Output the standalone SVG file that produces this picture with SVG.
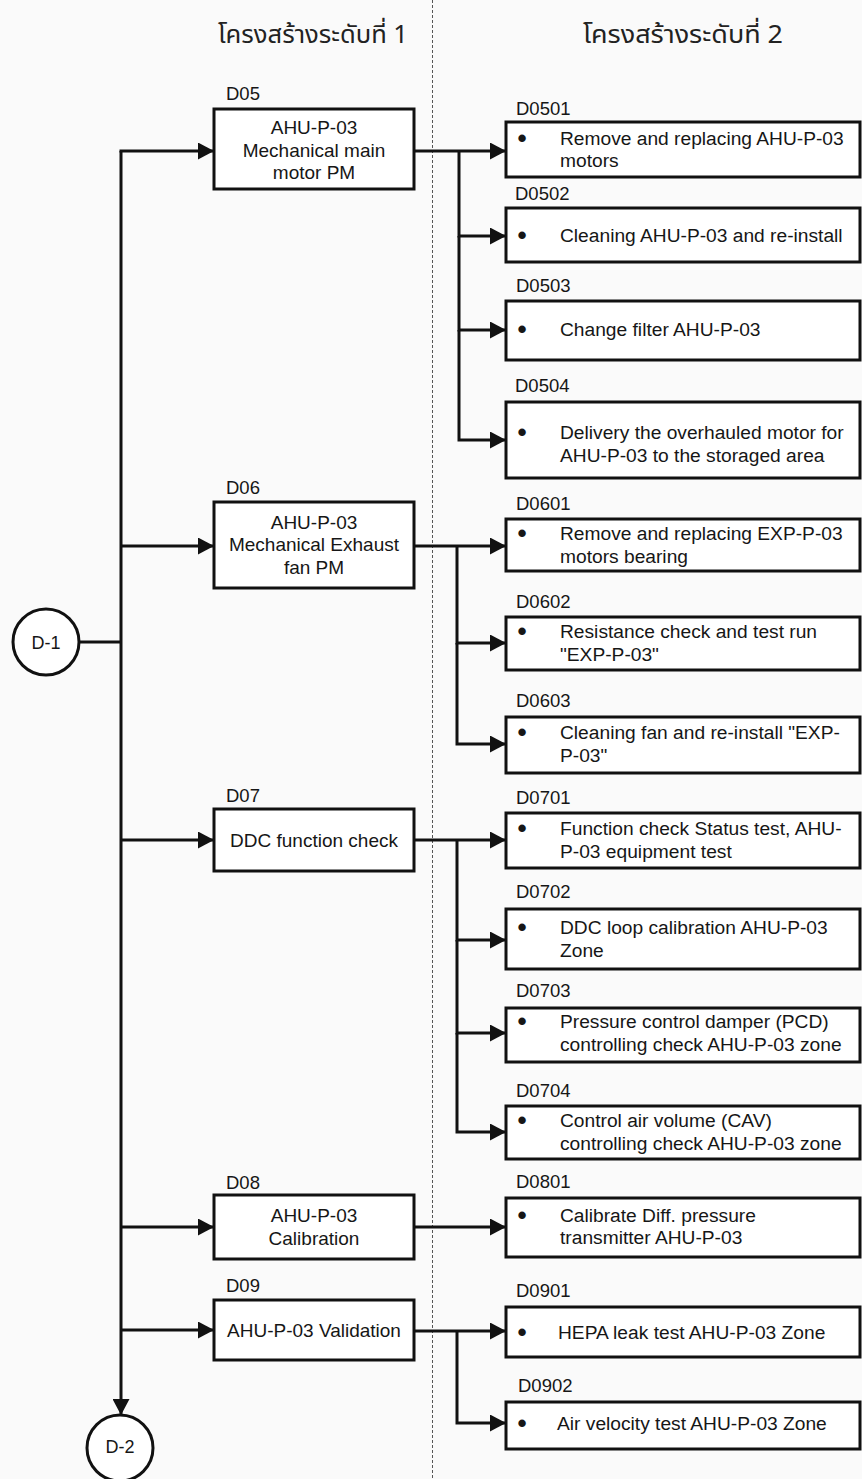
<svg xmlns="http://www.w3.org/2000/svg" width="862" height="1479" viewBox="0 0 862 1479">
  <defs>
    <style>
      .bg { fill: #fafafa; }
      .box { fill: #ffffff; stroke: #111111; stroke-width: 3; }
      .circ { fill: #ffffff; stroke: #111111; stroke-width: 3; }
      .wire { fill: none; stroke: #111111; stroke-width: 3; }
      .arrow { fill: none; stroke: #111111; stroke-width: 3; marker-end: url(#head); }
      .divider { stroke: #555555; stroke-width: 1; stroke-dasharray: 3 2; }
      text { font-family: "Liberation Sans", Arial, sans-serif; fill: #161616; }
      .title { font-family: "Noto Sans Thai", "Noto Sans", "DejaVu Sans", sans-serif; font-size: 25px; fill: #222222; }
      .id { font-size: 18.5px; }
      .t1 { font-size: 19px; text-anchor: middle; }
      .t2 { font-size: 19.2px; }
      .bul { font-size: 26px; font-weight: bold; text-anchor: middle; }
      .ref { font-size: 18px; text-anchor: middle; }
    </style>
    <marker id="head" markerUnits="userSpaceOnUse" markerWidth="16" markerHeight="17" refX="16" refY="8.5" orient="auto">
      <path d="M0,0 L16,8.5 L0,17 Z" fill="#111111"/>
    </marker>
  </defs>

  <rect class="bg" x="0" y="0" width="862" height="1479"/>

  <!-- column headings and divider -->
  <g id="headings">
    <text class="title" x="218" y="43" textLength="190" lengthAdjust="spacingAndGlyphs">โครงสร้างระดับที่ 1</text>
    <text class="title" x="583" y="43" textLength="200" lengthAdjust="spacingAndGlyphs">โครงสร้างระดับที่ 2</text>
    <line class="divider" x1="432.5" y1="0" x2="432.5" y2="1479"/>
  </g>

  <!-- connectors -->
  <g id="connectors">
    <!-- trunk -->
    <line class="wire" x1="79" y1="642" x2="121" y2="642"/>
    <line class="arrow" x1="121" y1="151" x2="121" y2="1415"/>
    <line class="arrow" x1="119.5" y1="151" x2="214" y2="151"/>
    <line class="arrow" x1="121" y1="546" x2="214" y2="546"/>
    <line class="arrow" x1="121" y1="840" x2="214" y2="840"/>
    <line class="arrow" x1="121" y1="1227" x2="214" y2="1227"/>
    <line class="arrow" x1="121" y1="1330" x2="214" y2="1330"/>

    <!-- D05 fan-out -->
    <line class="arrow" x1="414" y1="151" x2="506" y2="151"/>
    <polyline class="arrow" points="459,151 459,236 506,236"/>
    <polyline class="arrow" points="459,236 459,330 506,330"/>
    <polyline class="arrow" points="459,330 459,440 506,440"/>

    <!-- D06 fan-out -->
    <line class="arrow" x1="414" y1="546" x2="506" y2="546"/>
    <polyline class="arrow" points="457,546 457,643 506,643"/>
    <polyline class="arrow" points="457,643 457,744 506,744"/>

    <!-- D07 fan-out -->
    <line class="arrow" x1="414" y1="840" x2="506" y2="840"/>
    <polyline class="arrow" points="457,840 457,940 506,940"/>
    <polyline class="arrow" points="457,940 457,1033 506,1033"/>
    <polyline class="arrow" points="457,1033 457,1132 506,1132"/>

    <!-- D08 -->
    <line class="arrow" x1="414" y1="1227" x2="506" y2="1227"/>

    <!-- D09 fan-out -->
    <line class="arrow" x1="414" y1="1331" x2="506" y2="1331"/>
    <polyline class="arrow" points="457,1331 457,1423 506,1423"/>
  </g>

  <!-- connector circles -->
  <g id="D-1">
    <circle class="circ" cx="46" cy="642" r="33"/>
    <text class="ref" x="46" y="648.5">D-1</text>
  </g>
  <g id="D-2">
    <circle class="circ" cx="120" cy="1448" r="33"/>
    <text class="ref" x="120" y="1452.5">D-2</text>
  </g>

  <!-- level 1 -->
  <g id="D05">
    <text class="id" x="226" y="100">D05</text>
    <rect class="box" x="214" y="109" width="200" height="80"/>
    <text class="t1" x="314" y="134">AHU-P-03</text>
    <text class="t1" x="314" y="157">Mechanical main</text>
    <text class="t1" x="314" y="179">motor PM</text>
  </g>
  <g id="D06">
    <text class="id" x="226" y="494">D06</text>
    <rect class="box" x="214" y="502" width="200" height="86"/>
    <text class="t1" x="314" y="529">AHU-P-03</text>
    <text class="t1" x="314" y="551">Mechanical Exhaust</text>
    <text class="t1" x="314" y="574">fan PM</text>
  </g>
  <g id="D07">
    <text class="id" x="226" y="802">D07</text>
    <rect class="box" x="214" y="809" width="200" height="62"/>
    <text class="t1" x="314" y="847">DDC function check</text>
  </g>
  <g id="D08">
    <text class="id" x="226" y="1189">D08</text>
    <rect class="box" x="214" y="1195" width="200" height="64"/>
    <text class="t1" x="314" y="1222">AHU-P-03</text>
    <text class="t1" x="314" y="1245">Calibration</text>
  </g>
  <g id="D09">
    <text class="id" x="226" y="1292">D09</text>
    <rect class="box" x="214" y="1300" width="200" height="60"/>
    <text class="t1" x="314" y="1337">AHU-P-03 Validation</text>
  </g>

  <!-- level 2 -->
  <g id="D0501">
    <text class="id" x="516" y="115">D0501</text>
    <rect class="box" x="506" y="122" width="354" height="55"/>
    <text class="bul" x="522" y="147">•</text>
    <text class="t2" x="560" y="145">Remove and replacing AHU-P-03</text>
    <text class="t2" x="560" y="167">motors</text>
  </g>
  <g id="D0502">
    <text class="id" x="515" y="200">D0502</text>
    <rect class="box" x="506" y="208" width="354" height="54"/>
    <text class="bul" x="522" y="244">•</text>
    <text class="t2" x="560" y="242">Cleaning AHU-P-03 and re-install</text>
  </g>
  <g id="D0503">
    <text class="id" x="516" y="292">D0503</text>
    <rect class="box" x="506" y="301" width="354" height="59"/>
    <text class="bul" x="522" y="338">•</text>
    <text class="t2" x="560" y="336">Change filter AHU-P-03</text>
  </g>
  <g id="D0504">
    <text class="id" x="515" y="392">D0504</text>
    <rect class="box" x="506" y="402" width="354" height="76"/>
    <text class="bul" x="522" y="441">•</text>
    <text class="t2" x="560" y="439">Delivery the overhauled motor for</text>
    <text class="t2" x="560" y="462">AHU-P-03 to the storaged area</text>
  </g>

  <g id="D0601">
    <text class="id" x="516" y="510">D0601</text>
    <rect class="box" x="506" y="519" width="354" height="52"/>
    <text class="bul" x="522" y="542">•</text>
    <text class="t2" x="560" y="540">Remove and replacing EXP-P-03</text>
    <text class="t2" x="560" y="563">motors bearing</text>
  </g>
  <g id="D0602">
    <text class="id" x="516" y="608">D0602</text>
    <rect class="box" x="506" y="617" width="354" height="53"/>
    <text class="bul" x="522" y="640">•</text>
    <text class="t2" x="560" y="638">Resistance check and test run</text>
    <text class="t2" x="560" y="661">"EXP-P-03"</text>
  </g>
  <g id="D0603">
    <text class="id" x="516" y="707">D0603</text>
    <rect class="box" x="506" y="717" width="354" height="56"/>
    <text class="bul" x="522" y="741">•</text>
    <text class="t2" x="560" y="739">Cleaning fan and re-install "EXP-</text>
    <text class="t2" x="560" y="762">P-03"</text>
  </g>

  <g id="D0701">
    <text class="id" x="516" y="804">D0701</text>
    <rect class="box" x="506" y="813" width="354" height="55"/>
    <text class="bul" x="522" y="837">•</text>
    <text class="t2" x="560" y="835">Function check Status test, AHU-</text>
    <text class="t2" x="560" y="858">P-03 equipment test</text>
  </g>
  <g id="D0702">
    <text class="id" x="516" y="898">D0702</text>
    <rect class="box" x="506" y="909" width="354" height="60"/>
    <text class="bul" x="522" y="936">•</text>
    <text class="t2" x="560" y="934">DDC loop calibration AHU-P-03</text>
    <text class="t2" x="560" y="957">Zone</text>
  </g>
  <g id="D0703">
    <text class="id" x="516" y="997">D0703</text>
    <rect class="box" x="506" y="1008" width="354" height="54"/>
    <text class="bul" x="522" y="1030">•</text>
    <text class="t2" x="560" y="1028">Pressure control damper (PCD)</text>
    <text class="t2" x="560" y="1051">controlling check AHU-P-03 zone</text>
  </g>
  <g id="D0704">
    <text class="id" x="516" y="1097">D0704</text>
    <rect class="box" x="506" y="1106" width="354" height="53"/>
    <text class="bul" x="522" y="1129">•</text>
    <text class="t2" x="560" y="1127">Control air volume (CAV)</text>
    <text class="t2" x="560" y="1150">controlling check AHU-P-03 zone</text>
  </g>

  <g id="D0801">
    <text class="id" x="516" y="1188">D0801</text>
    <rect class="box" x="506" y="1198" width="354" height="59"/>
    <text class="bul" x="522" y="1224">•</text>
    <text class="t2" x="560" y="1222">Calibrate Diff. pressure</text>
    <text class="t2" x="560" y="1244">transmitter AHU-P-03</text>
  </g>

  <g id="D0901">
    <text class="id" x="516" y="1297">D0901</text>
    <rect class="box" x="506" y="1307" width="354" height="50"/>
    <text class="bul" x="522" y="1341">•</text>
    <text class="t2" x="558" y="1339">HEPA leak test AHU-P-03 Zone</text>
  </g>
  <g id="D0902">
    <text class="id" x="518" y="1392">D0902</text>
    <rect class="box" x="506" y="1402" width="354" height="47"/>
    <text class="bul" x="522" y="1432">•</text>
    <text class="t2" x="557" y="1430">Air velocity test AHU-P-03 Zone</text>
  </g>
</svg>
